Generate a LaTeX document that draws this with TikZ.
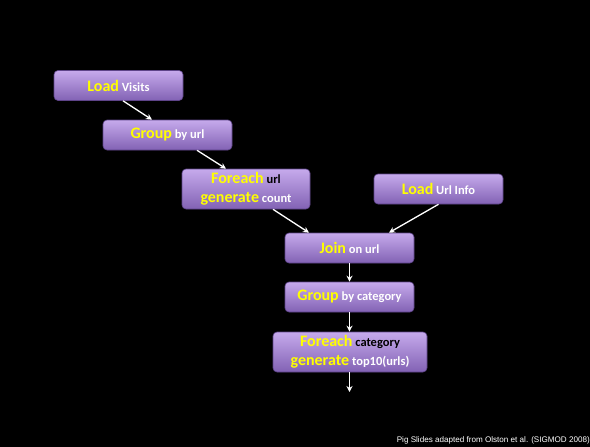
\documentclass[tikz,border=0pt]{standalone}
\usepackage{fontspec}
\setmainfont{Carlito}
\newfontfamily\footfont{Liberation Sans}
\usetikzlibrary{arrows.meta}
\definecolor{boxtop}{HTML}{C6AAEC}
\definecolor{boxbot}{HTML}{8262B4}
\definecolor{boxedge}{HTML}{5E4489}
\definecolor{kwyellow}{HTML}{FFFF00}
\tikzset{
  opbox/.style={rectangle, rounded corners=4pt, draw=boxedge, line width=0.6pt,
    top color=boxtop, bottom color=boxbot, inner sep=0pt,
    minimum width=#1, align=center, font=\bfseries\fontsize{12.5}{19}\selectfont, text=white},
  opbox/.default=129pt,
  onerow/.style={minimum height=30pt},
  tworow/.style={minimum height=40pt},
  flow/.style={draw=white, line width=1.3pt, -{Stealth[length=6pt,width=6pt]}},
}
\newcommand{\kw}[1]{{\fontsize{16}{19}\selectfont\color{kwyellow}#1}}
\begin{document}
\begin{tikzpicture}[x=1pt,y=-1pt]
  \fill[black] (0,0) rectangle (590,447);
  \useasboundingbox (0,0) rectangle (590,447);

  \node[opbox, onerow] (lv) at (118.5,85.5) {\kw{Load} Visits};
  \node[opbox, onerow] (gu) at (167.5,135) {\kw{Group} by url};
  \node[opbox=128pt, tworow] (fu) at (246,189) {\kw{Foreach} {\color{black}url}\\\kw{generate} count};
  \node[opbox, onerow] (lu) at (438.5,189) {\kw{Load} Url Info};
  \node[opbox, onerow] (jn) at (349.5,248) {\kw{Join} on url};
  \node[opbox, onerow] (gc) at (349.5,297) {\kw{Group} by category};
  \node[opbox=154pt, tworow] (fc) at (350,352) {\kw{Foreach} {\color{black}category}\\\kw{generate} top10(urls)};
  \coordinate (out) at (349.5,392);

  \draw[flow] ([xshift=4.5pt]lv.south) -- ([xshift=-15.5pt]gu.north);
  \draw[flow] ([xshift=29.5pt]gu.south) -- ([xshift=-20pt]fu.north);
  \draw[flow] ([xshift=27pt]fu.south) -- ([xshift=-40.5pt]jn.north);
  \draw[flow] (lu.south) -- ([xshift=39.5pt]jn.north);
  \draw[flow] (jn.south) -- (gc.north);
  \draw[flow] (gc.south) -- ([xshift=-0.5pt]fc.north);
  \draw[flow] ([xshift=-0.5pt]fc.south) -- (out);

  \node[anchor=base east, inner sep=0pt, text=white, font=\footfont\fontsize{8.1}{9}\selectfont] (credit) at (590,442)
    {Pig Slides adapted from Olston et al. (SIGMOD 2008)};
\end{tikzpicture}
\end{document}
